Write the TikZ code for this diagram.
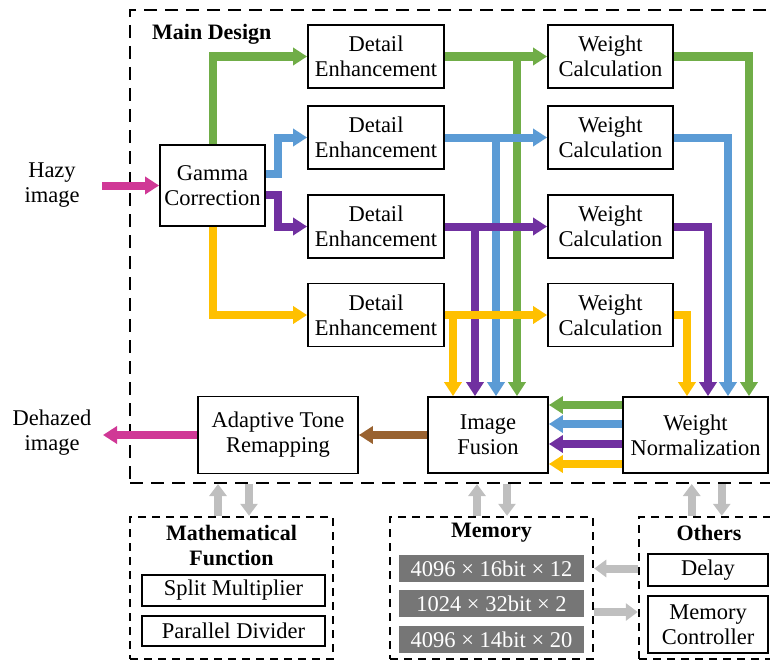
\documentclass[tikz,border=0pt]{standalone}
\usepackage{fontspec}
\setmainfont{Liberation Serif}
\usetikzlibrary{arrows.meta}
\definecolor{cgreen}{RGB}{112,173,71}
\definecolor{cblue}{RGB}{91,155,213}
\definecolor{cpurple}{RGB}{112,48,160}
\definecolor{cyellow}{RGB}{255,192,0}
\definecolor{cmag}{RGB}{208,56,150}
\definecolor{cbrown}{RGB}{153,98,48}
\definecolor{cgrey}{RGB}{191,191,191}
\definecolor{cmem}{RGB}{118,118,118}
\begin{document}
\begin{tikzpicture}[x=1pt,y=-1pt,
  txt/.style={inner sep=0pt, align=center, font=\fontsize{22.5}{25}\selectfont},
  box/.style={txt, draw=black, line width=1.8pt, rectangle},
  ttl/.style={inner sep=0pt, align=center, font=\fontsize{22}{25}\selectfont\bfseries},
  bigdash/.style={draw=black, line width=2pt, dash pattern=on 13pt off 8pt, rectangle, inner sep=0pt},
  smalldash/.style={draw=black, line width=2.5pt, dash pattern=on 8pt off 6pt, rectangle, inner sep=0pt},
  membox/.style={txt, fill=cmem, text=white, rectangle},
  flow/.style={line width=8pt, -{Triangle[width=17pt,length=14pt]}},
  gflow/.style={line width=8pt, draw=cgrey, -{Triangle[width=17pt,length=12pt]}}]
\clip (0,0) rectangle (770,661);
\useasboundingbox (0,0) rectangle (770,661);

% dashed frames
\node[bigdash, minimum width=680pt, minimum height=473pt] (main) at (470,246.5) {};
\node[smalldash, minimum width=203pt, minimum height=142pt] (mf) at (231.5,588) {};
\node[smalldash, minimum width=203pt, minimum height=142pt] (mem) at (491.5,588) {};
\node[smalldash, minimum width=191pt, minimum height=142pt] (oth) at (734.5,588) {};

% titles
\node[ttl, anchor=west] (mdt) at (152,34) {Main Design};
\node[ttl] (mft) at (231.5,545) {Mathematical\\Function};
\node[ttl] (memt) at (491.5,533) {Memory};
\node[ttl] (otht) at (709,533) {Others};

% outside labels
\node[txt] (hazy) at (52,185) {Hazy\\image};
\node[txt] (dehazy) at (52,433) {Dehazed\\image};
\coordinate (hin) at (102,185.5);
\coordinate (hout) at (103,435);

% main boxes
\node[box, minimum width=105pt, minimum height=81pt] (gc) at (212.5,185.5) {Gamma\\Correction};
\node[box, minimum width=136pt, minimum height=63pt] (de1) at (376,56.5) {Detail\\Enhancement};
\node[box, minimum width=136pt, minimum height=63pt] (de2) at (376,137.5) {Detail\\Enhancement};
\node[box, minimum width=136pt, minimum height=63pt] (de3) at (376,226.5) {Detail\\Enhancement};
\node[box, minimum width=136pt, minimum height=63pt] (de4) at (376,315) {Detail\\Enhancement};
\node[box, minimum width=125pt, minimum height=63pt] (wc1) at (610.5,56.5) {Weight\\Calculation};
\node[box, minimum width=125pt, minimum height=63pt] (wc2) at (610.5,137.5) {Weight\\Calculation};
\node[box, minimum width=125pt, minimum height=63pt] (wc3) at (610.5,226.5) {Weight\\Calculation};
\node[box, minimum width=125pt, minimum height=63pt] (wc4) at (610.5,315) {Weight\\Calculation};
\node[box, minimum width=120pt, minimum height=76pt] (fu) at (488,435) {Image\\Fusion};
\node[box, minimum width=145pt, minimum height=76pt] (wn) at (695.5,435) {Weight\\Normalization};
\node[box, minimum width=160pt, minimum height=77pt] (at) at (278,435) {Adaptive Tone\\Remapping};

% bottom boxes
\node[box, minimum width=183pt, minimum height=31pt] (sm) at (233.5,590.5) {Split Multiplier};
\node[box, minimum width=183pt, minimum height=30pt] (pd) at (233.5,631) {Parallel Divider};
\node[membox, minimum width=185pt, minimum height=27pt] (m1) at (491.5,568.5) {4096 × 16bit × 12};
\node[membox, minimum width=185pt, minimum height=27pt] (m2) at (491.5,603.5) {1024 × 32bit × 2};
\node[membox, minimum width=185pt, minimum height=27pt] (m3) at (491.5,639.5) {4096 × 14bit × 20};
\node[box, minimum width=120pt, minimum height=32pt] (dl) at (708,570) {Delay};
\node[box, minimum width=120pt, minimum height=57pt] (mc) at (708,624.5) {Memory\\Controller};

% input / output
\draw[flow, cmag] (hin) -- (gc.west);
\draw[flow, cmag] (at.west) -- (hout);
\draw[flow, cbrown] (fu.west) -- (at.east);

% gamma to detail
\draw[flow, cgreen] (gc.north) |- (de1.west);
\draw[flow, cblue] ([yshift=11.5pt]gc.east) -- ++(12,0) |- (de2.west);
\draw[flow, cpurple] ([yshift=-9pt]gc.east) -- ++(12,0) |- (de3.west);
\draw[flow, cyellow] (gc.south) |- (de4.west);

% branches down to fusion
\coordinate (fy) at ([xshift=-35pt]fu.north);
\coordinate (fp) at ([xshift=-13pt]fu.north);
\coordinate (fb) at ([xshift=8pt]fu.north);
\coordinate (fg) at ([xshift=29pt]fu.north);
\draw[flow, cgreen] (fg |- de1.east) -- (fg);
\draw[flow, cblue] (fb |- de2.east) -- (fb);
\draw[flow, cpurple] (fp |- de3.east) -- (fp);
\draw[flow, cyellow] (fy |- de4.east) -- (fy);

% detail to weight
\draw[flow, cgreen] (de1.east) -- (wc1.west);
\draw[flow, cblue] (de2.east) -- (wc2.west);
\draw[flow, cpurple] (de3.east) -- (wc3.west);
\draw[flow, cyellow] (de4.east) -- (wc4.west);

% weight to normalization
\coordinate (ny) at ([xshift=-8.5pt]wn.north);
\coordinate (np) at ([xshift=12.5pt]wn.north);
\coordinate (nb) at ([xshift=32.5pt]wn.north);
\coordinate (ng) at ([xshift=53.5pt]wn.north);
\draw[flow, cgreen] (wc1.east) -| (ng);
\draw[flow, cblue] (wc2.east) -| (nb);
\draw[flow, cpurple] (wc3.east) -| (np);
\draw[flow, cyellow] (wc4.east) -| (ny);

% normalization to fusion
\draw[flow, cgreen] ([yshift=30pt]wn.west) -- ([yshift=30pt]fu.east);
\draw[flow, cblue] ([yshift=11pt]wn.west) -- ([yshift=11pt]fu.east);
\draw[flow, cpurple] ([yshift=-9pt]wn.west) -- ([yshift=-9pt]fu.east);
\draw[flow, cyellow] ([yshift=-29pt]wn.west) -- ([yshift=-29pt]fu.east);

% grey arrows
\draw[gflow] ([xshift=-13.5pt]mf.north) -- ([xshift=-13.5pt]mf.north |- main.south);
\draw[gflow] ([xshift=17.5pt]mf.north |- main.south) -- ([xshift=17.5pt]mf.north);
\draw[gflow] ([xshift=-14.5pt]mem.north) -- ([xshift=-14.5pt]mem.north |- main.south);
\draw[gflow] ([xshift=15.5pt]mem.north |- main.south) -- ([xshift=15.5pt]mem.north);
\draw[gflow] ([xshift=54pt]oth.north west) -- ([xshift=54pt]oth.north west |- main.south);
\draw[gflow] ([xshift=84pt]oth.north west |- main.south) -- ([xshift=84pt]oth.north west);
\draw[gflow] (oth.west |- m1.east) -- (m1.east -| mem.east);
\draw[gflow] ([yshift=-24pt]mem.east) -- ([yshift=-24pt]mem.east -| oth.west);
\end{tikzpicture}
\end{document}
